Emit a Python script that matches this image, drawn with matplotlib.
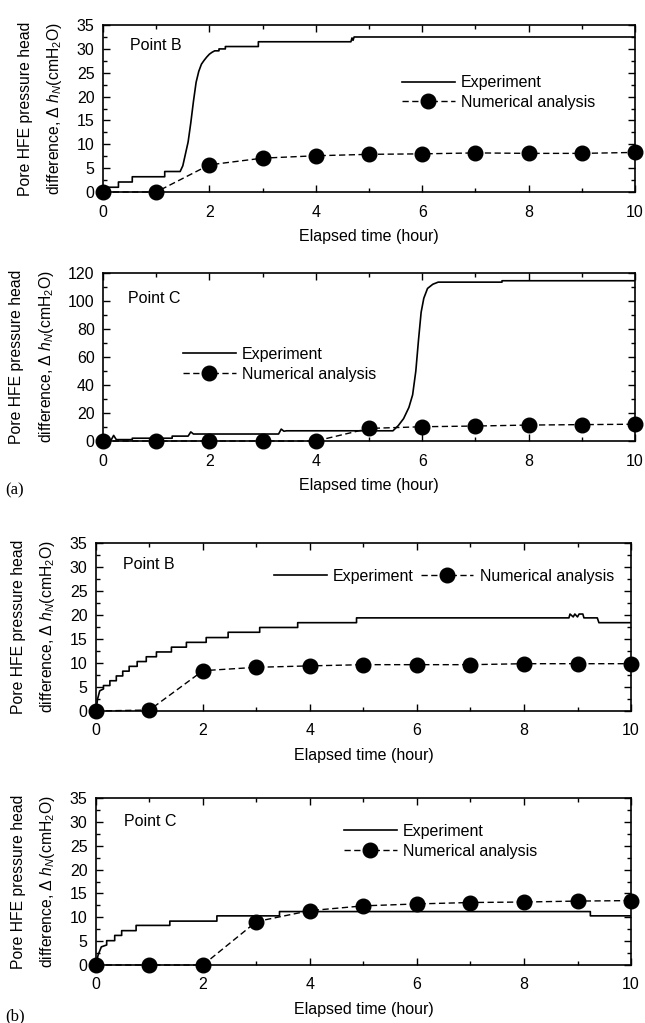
import matplotlib
matplotlib.use("Agg")
import matplotlib.pyplot as plt
from matplotlib.ticker import MultipleLocator

plt.rcParams['font.family'] = ['Liberation Sans', 'DejaVu Sans']
plt.rcParams['mathtext.fontset'] = 'custom'
plt.rcParams['mathtext.rm'] = 'Liberation Sans'
plt.rcParams['mathtext.it'] = 'Liberation Sans:italic'
plt.rcParams['font.size'] = 11

# numerical analysis (hourly)
t_num = [0, 1, 2, 3, 4, 5, 6, 7, 8, 9, 10]
aB_num = [0, 0, 5.7, 7.1, 7.6, 7.9, 8.0, 8.2, 8.1, 8.1, 8.3]
aC_num = [0, 0, 0, 0, 0, 9.0, 10.2, 10.7, 11.4, 11.7, 12.0]
bB_num = [0, 0.2, 8.4, 9.1, 9.4, 9.65, 9.65, 9.65, 9.85, 9.85, 9.85]
bC_num = [0, 0, 0, 9.1, 11.4, 12.4, 12.8, 13.1, 13.2, 13.4, 13.5]

# experiment traces
aB_t = [0, 0.05, 0.05, 0.29, 0.29, 0.55, 0.55, 1.16, 1.16, 1.45, 1.5, 1.55, 1.6, 1.65,
        1.7, 1.75, 1.8, 1.85, 1.9, 1.95, 2.0, 2.05, 2.1, 2.18, 2.18, 2.3, 2.3, 2.92,
        2.92, 4.66, 4.68, 4.7, 4.72, 10]
aB_y = [0, 0, 1.0, 1.0, 2.1, 2.1, 3.2, 3.2, 4.3, 4.3, 5.5, 8.0, 10.5, 14.5,
        19, 23, 25.3, 26.8, 27.6, 28.3, 28.9, 29.3, 29.6, 29.6, 30.0, 30.0, 30.5, 30.5,
        31.5, 31.5, 32.3, 31.8, 32.5, 32.5]

aC_t = [0, 0.15, 0.2, 0.25, 0.3, 0.55, 0.55, 1.3, 1.3, 1.6, 1.65, 1.7, 1.75, 3.3,
        3.35, 3.4, 3.45, 5.45, 5.55, 5.65, 5.75, 5.82, 5.88, 5.93, 5.98, 6.03, 6.1,
        6.2, 6.3, 7.5, 7.5, 10]
aC_y = [0, 0.5, 4, 1, 1, 1, 2, 2, 3.5, 3.5, 6.5, 5, 5, 5,
        8.5, 7, 7.3, 7.3, 11, 16, 24, 33, 50, 72, 92, 102, 109,
        112, 113.5, 113.5, 114.5, 114.5]

bB_t = [0, 0.03, 0.07, 0.14, 0.14, 0.26, 0.26, 0.38, 0.38, 0.5, 0.5, 0.62, 0.62,
        0.77, 0.77, 0.94, 0.94, 1.13, 1.13, 1.41, 1.41, 1.69, 1.69, 2.06, 2.06,
        2.47, 2.47, 3.06, 3.06, 3.77, 3.77, 4.87, 4.87, 8.84, 8.86, 8.92, 8.95,
        9.0, 9.03, 9.1, 9.12, 9.37, 9.4, 10]
bB_y = [0, 2.5, 4.2, 4.6, 5.3, 5.3, 6.3, 6.3, 7.3, 7.3, 8.3, 8.3, 9.3,
        9.3, 10.3, 10.3, 11.3, 11.3, 12.3, 12.3, 13.3, 13.3, 14.3, 14.3, 15.3,
        15.3, 16.4, 16.4, 17.4, 17.4, 18.4, 18.4, 19.4, 19.4, 20.2, 19.6, 20.2,
        19.6, 20.2, 20.2, 19.4, 19.4, 18.4, 18.4]

bC_t = [0, 0.04, 0.1, 0.2, 0.2, 0.35, 0.35, 0.48, 0.48, 0.75, 0.75, 1.38, 1.38,
        2.26, 2.26, 3.43, 3.43, 9.24, 9.24, 10]
bC_y = [0, 2.1, 3.8, 4.2, 5.1, 5.1, 6.2, 6.2, 7.2, 7.2, 8.3, 8.3, 9.2,
        9.2, 10.3, 10.3, 11.2, 11.2, 10.3, 10.3]

ylabel = "Pore HFE pressure head\ndifference, $\\Delta$ $h_N$(cmH$_2$O)"

fig = plt.figure(figsize=(6.45, 10.23), dpi=100)

panels = [
    # rect, exp t, exp y, num, ymax, ymajor, yminor, point, point pos, legend anchor, ncol
    ([0.1597, 0.8123, 0.8248, 0.1632], aB_t, aB_y, aB_num, 35, 5, 2.5, "Point B", (0.05, 0.88), (0.562, 0.70), 1),
    ([0.1597, 0.5689, 0.8248, 0.1642], aC_t, aC_y, aC_num, 120, 20, 10, "Point C", (0.047, 0.851), (0.150, 0.56), 1),
    ([0.1488, 0.3050, 0.8295, 0.1642], bB_t, bB_y, bB_num, 35, 5, 2.5, "Point B", (0.05, 0.875), (0.333, 0.845), 2),
    ([0.1488, 0.0567, 0.8295, 0.1632], bC_t, bC_y, bC_num, 35, 5, 2.5, "Point C", (0.052, 0.862), (0.4636, 0.845), 1),
]

for rect, et, ey, num, ymax, ymaj, ymin, pt, ppos, lpos, ncol in panels:
    ax = fig.add_axes(rect)
    ax.plot(et, ey, color='black', lw=1.2, label='Experiment')
    ax.plot(t_num, num, color='black', lw=1.0, linestyle=(0, (4.5, 2.5)),
            marker='o', markersize=10.5, clip_on=False, zorder=5,
            label='Numerical analysis')
    ax.set_xlim(0, 10)
    ax.set_ylim(0, ymax)
    ax.xaxis.set_major_locator(MultipleLocator(2))
    ax.xaxis.set_minor_locator(MultipleLocator(1))
    ax.yaxis.set_major_locator(MultipleLocator(ymaj))
    ax.yaxis.set_minor_locator(MultipleLocator(ymin))
    ax.tick_params(which='both', direction='in', top=True, right=True, width=1)
    ax.tick_params(which='major', length=5)
    ax.tick_params(which='minor', length=3)
    ax.tick_params(axis='x', pad=9, labelsize=11.5)
    ax.tick_params(axis='y', pad=6, labelsize=11.5)
    for s in ax.spines.values():
        s.set_linewidth(1.2)
    ax.set_xlabel("Elapsed time (hour)", fontsize=11.5, labelpad=7)
    ax.set_ylabel(ylabel, fontsize=11.3, linespacing=1.9, labelpad=9)
    ax.text(ppos[0], ppos[1], pt, transform=ax.transAxes, fontsize=11.5, va='center')
    ax.legend(loc='upper left', bbox_to_anchor=lpos, frameon=False, ncol=ncol,
              fontsize=11.5, handlelength=3.3, handletextpad=0.4, labelspacing=0.3,
              borderpad=0, borderaxespad=0, columnspacing=0.4, numpoints=1)

fig.text(0.008, 1 - 490 / 1023, "(a)", family=['Liberation Serif'], fontsize=12, va='center')
fig.text(0.008, 1 - 1016 / 1023, "(b)", family=['Liberation Serif'], fontsize=12, va='center')

fig.savefig("out.png", dpi=100)
